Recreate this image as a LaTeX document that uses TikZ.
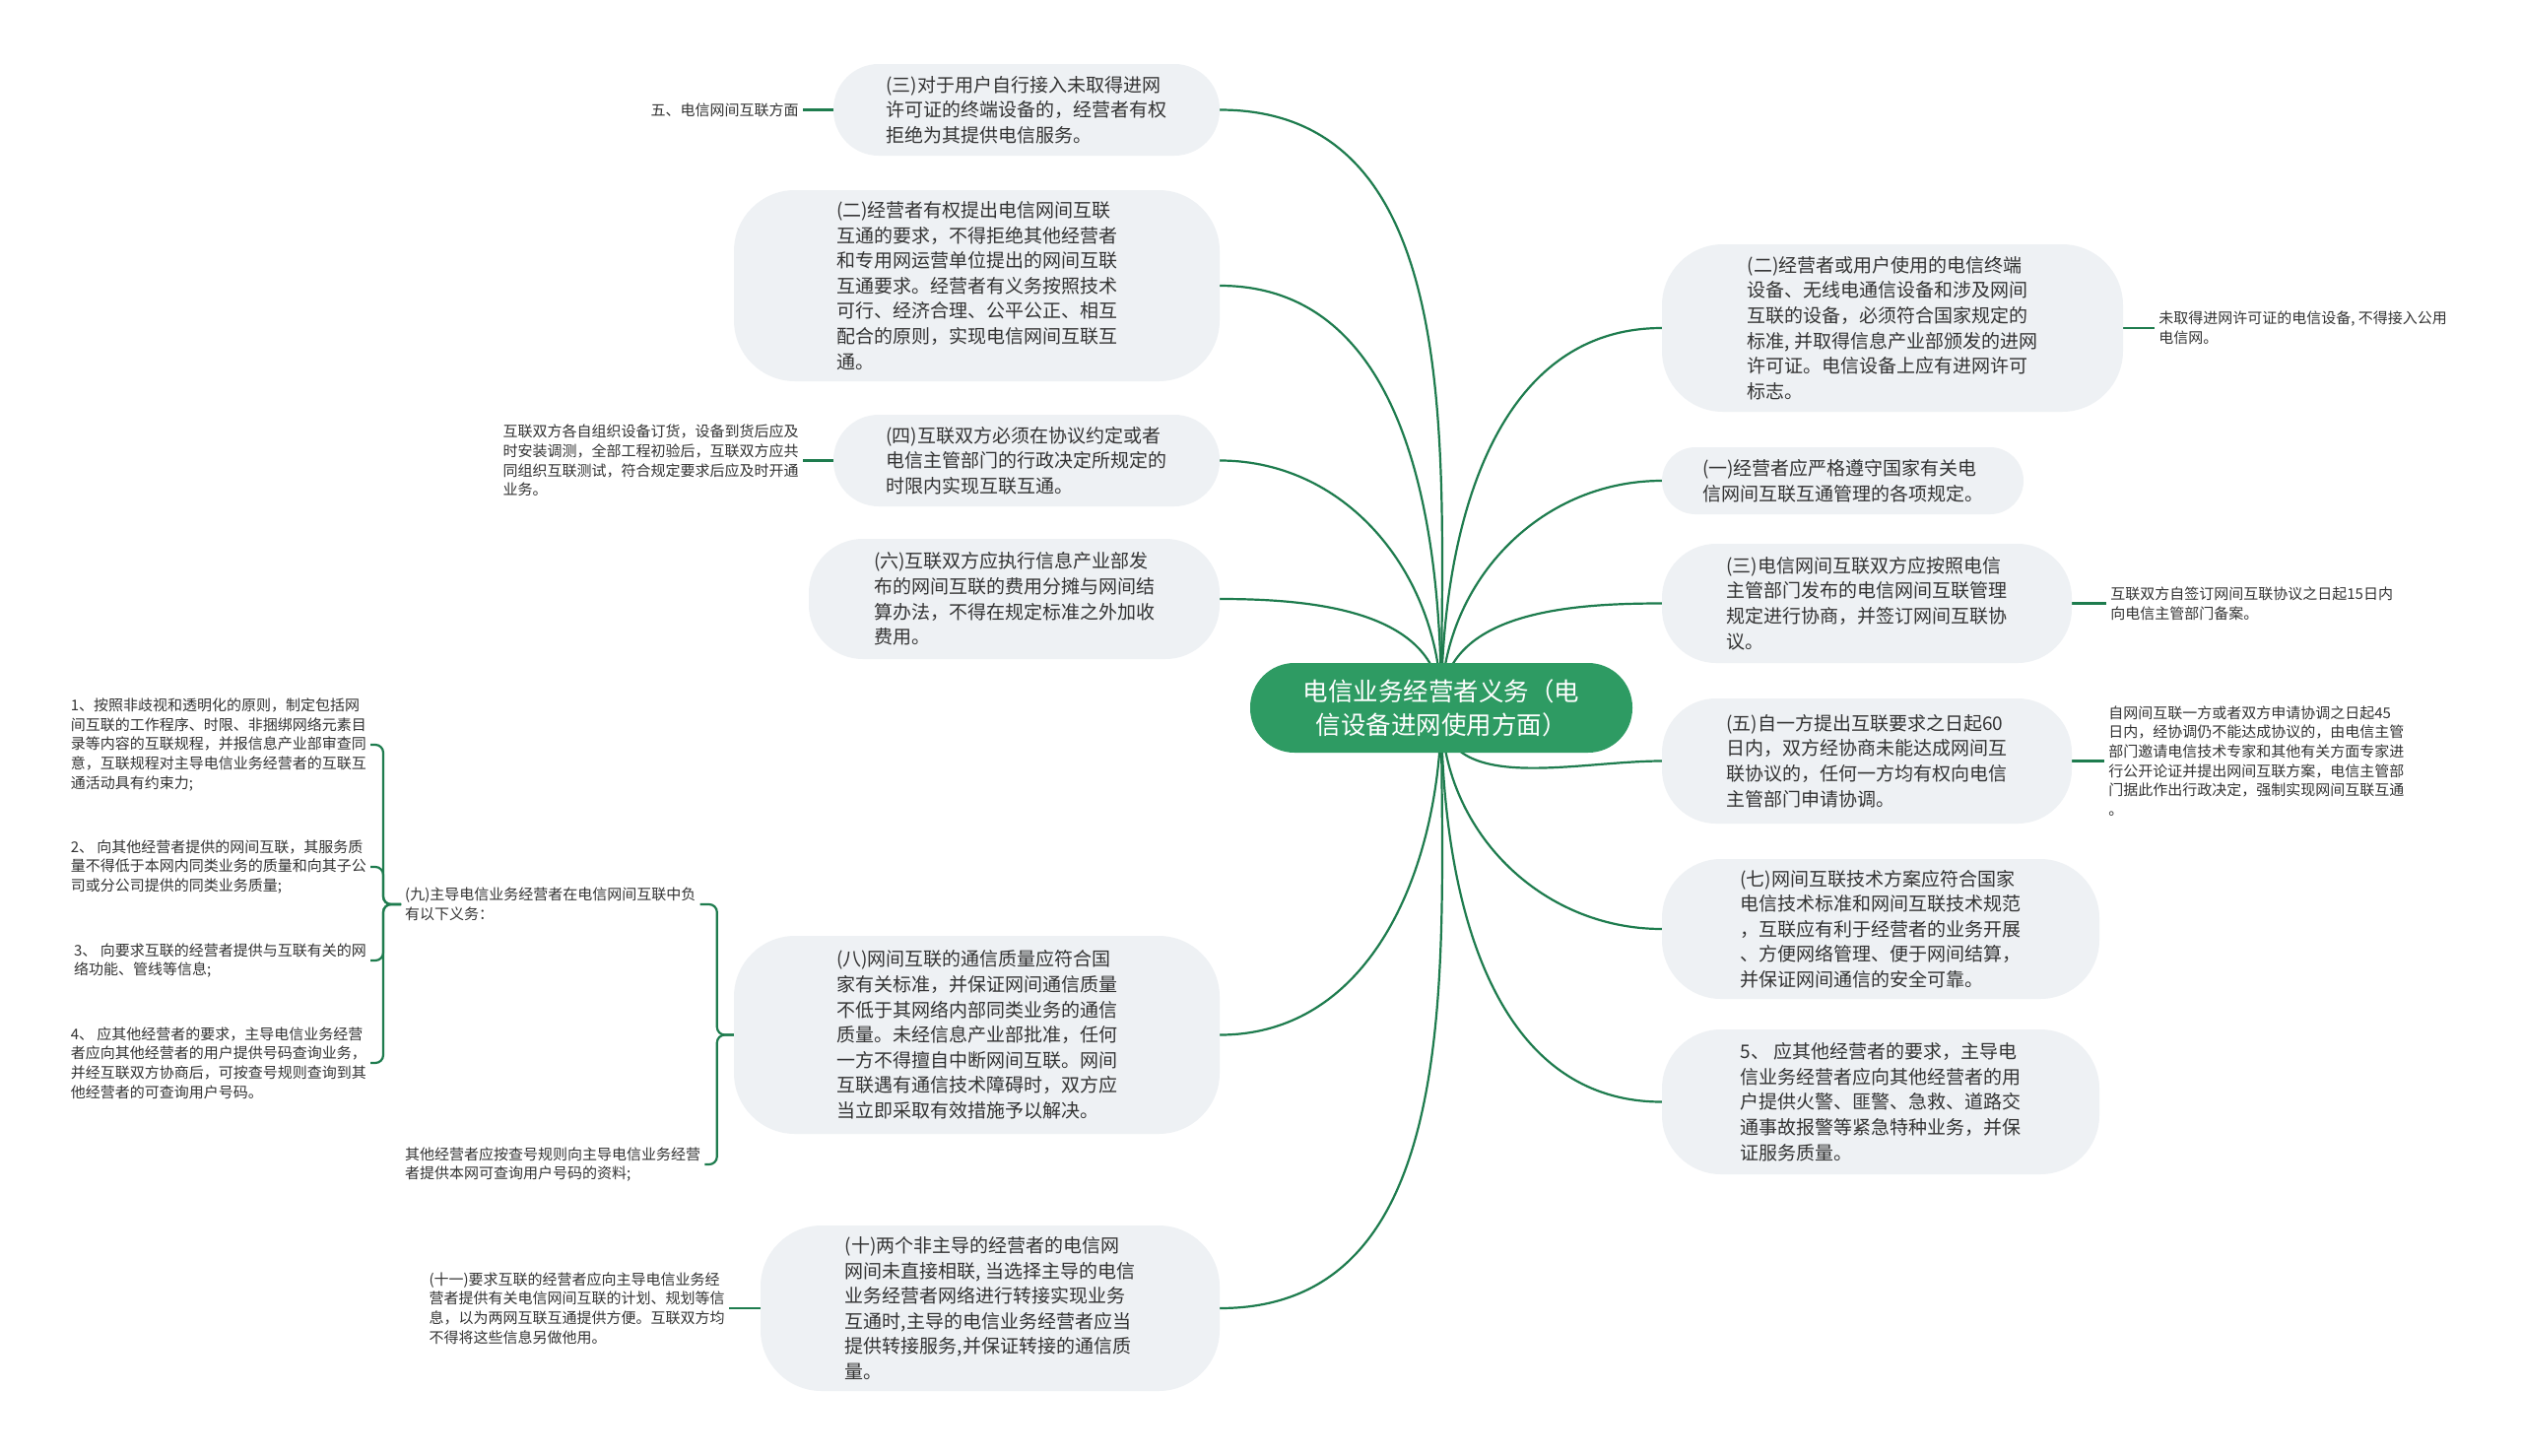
\documentclass[tikz,border=0pt]{standalone}
\usepackage{fontspec}
\setmainfont{Noto Sans CJK SC}
\usepackage{tikz}
\usepackage{xcolor}
\usetikzlibrary{positioning,backgrounds}

\definecolor{linkgreen}{HTML}{1E7C4E}
\definecolor{rootgreen}{HTML}{2E9B63}
\definecolor{pillgray}{HTML}{EEF1F4}
\definecolor{textgray}{HTML}{333333}

\tikzset{
  pill/.style={fill=pillgray,text=textgray,align=left,inner sep=0pt,
               font=\fontsize{19}{25.6}\selectfont},
  leaf/.style={text=textgray,align=left,inner sep=4pt,
               font=\fontsize{15}{19.6}\selectfont},
  link/.style={draw=linkgreen,line width=2.2pt},
}

\begin{document}
\begin{tikzpicture}[x=1pt,y=1pt]

  \useasboundingbox (0,0) rectangle (2560,-1478);

  % ---------- root ----------
  \node[fill=rootgreen,text=white,rounded corners=45pt,align=center,
        minimum width=388pt,minimum height=91pt,inner sep=0pt,
        font=\fontsize{25.5}{34}\selectfont] (root) at (1463,-718.5)
    {电信业务经营者义务（电\\信设备进网使用方面）};

  % ---------- left branch ----------
  \node[pill,minimum width=392pt,minimum height=93pt,rounded corners=46pt] (L3) at (1042,-111.5)
    {(三)对于用户自行接入未取得进网\\许可证的终端设备的，经营者有权\\拒绝为其提供电信服务。};
  \node[pill,minimum width=493pt,minimum height=194pt,rounded corners=62pt] (L2) at (991.5,-290)
    {(二)经营者有权提出电信网间互联\\互通的要求，不得拒绝其他经营者\\和专用网运营单位提出的网间互联\\互通要求。经营者有义务按照技术\\可行、经济合理、公平公正、相互\\配合的原则，实现电信网间互联互\\通。};
  \node[pill,minimum width=392pt,minimum height=93pt,rounded corners=46pt] (L4) at (1042,-467.5)
    {(四)互联双方必须在协议约定或者\\电信主管部门的行政决定所规定的\\时限内实现互联互通。};
  \node[pill,minimum width=417pt,minimum height=122pt,rounded corners=55pt] (L6) at (1029.5,-608)
    {(六)互联双方应执行信息产业部发\\布的网间互联的费用分摊与网间结\\算办法，不得在规定标准之外加收\\费用。};
  \node[pill,minimum width=493pt,minimum height=201pt,rounded corners=62pt] (L8) at (991.5,-1050.5)
    {(八)网间互联的通信质量应符合国\\家有关标准，并保证网间通信质量\\不低于其网络内部同类业务的通信\\质量。未经信息产业部批准，任何\\一方不得擅自中断网间互联。网间\\互联遇有通信技术障碍时，双方应\\当立即采取有效措施予以解决。};
  \node[pill,minimum width=466pt,minimum height=168pt,rounded corners=62pt] (L10) at (1005,-1328)
    {(十)两个非主导的经营者的电信网\\网间未直接相联, 当选择主导的电信\\业务经营者网络进行转接实现业务\\互通时,主导的电信业务经营者应当\\提供转接服务,并保证转接的通信质\\量。};

  % ---------- right branch ----------
  \node[pill,minimum width=468pt,minimum height=170pt,rounded corners=62pt] (R2) at (1921,-333)
    {(二)经营者或用户使用的电信终端\\设备、无线电通信设备和涉及网间\\互联的设备，必须符合国家规定的\\标准, 并取得信息产业部颁发的进网\\许可证。电信设备上应有进网许可\\标志。};
  \node[pill,minimum width=367pt,minimum height=68pt,rounded corners=34pt] (R1) at (1870.5,-488)
    {(一)经营者应严格遵守国家有关电\\信网间互联互通管理的各项规定。};
  \node[pill,minimum width=416pt,minimum height=121pt,rounded corners=55pt] (R3) at (1895,-612.5)
    {(三)电信网间互联双方应按照电信\\主管部门发布的电信网间互联管理\\规定进行协商，并签订网间互联协\\议。};
  \node[pill,minimum width=416pt,minimum height=127pt,rounded corners=55pt] (R5) at (1895,-772.5)
    {(五)自一方提出互联要求之日起60\\日内，双方经协商未能达成网间互\\联协议的，任何一方均有权向电信\\主管部门申请协调。};
  \node[pill,minimum width=444pt,minimum height=142pt,rounded corners=60pt] (R7) at (1909,-943)
    {(七)网间互联技术方案应符合国家\\电信技术标准和网间互联技术规范\\，互联应有利于经营者的业务开展\\、方便网络管理、便于网间结算，\\并保证网间通信的安全可靠。};
  \node[pill,minimum width=444pt,minimum height=147pt,rounded corners=60pt] (R5b) at (1909,-1118.5)
    {5、 应其他经营者的要求，主导电\\信业务经营者应向其他经营者的用\\户提供火警、匪警、急救、道路交\\通事故报警等紧急特种业务，并保\\证服务质量。};

  % ---------- leaves ----------
  \node[leaf,left=31pt of L3] (l3) {五、电信网间互联方面};
  \node[leaf,left=31pt of L4] (l4)
    {互联双方各自组织设备订货，设备到货后应及\\时安装调测，全部工程初验后，互联双方应共\\同组织互联测试，符合规定要求后应及时开通\\业务。};
  \node[leaf,left=32pt of L10] (l10)
    {(十一)要求互联的经营者应向主导电信业务经\\营者提供有关电信网间互联的计划、规划等信\\息，以为两网互联互通提供方便。互联双方均\\不得将这些信息另做他用。};
  \node[leaf,right=32pt of R2] (r2)
    {未取得进网许可证的电信设备, 不得接入公用\\电信网。};
  \node[leaf,right=35pt of R3] (r3)
    {互联双方自签订网间互联协议之日起15日内\\向电信主管部门备案。};
  \node[leaf,right=33pt of R5] (r5)
    {自网间互联一方或者双方申请协调之日起45\\日内，经协调仍不能达成协议的，由电信主管\\部门邀请电信技术专家和其他有关方面专家进\\行公开论证并提出网间互联方案，电信主管部\\门据此作出行政决定，强制实现网间互联互通\\。};

  % (八) sub-tree
  \node[leaf,anchor=west] (n9) at (407,-918)
    {(九)主导电信业务经营者在电信网间互联中负\\有以下义务：};
  \node[leaf,anchor=west] (n9b) at (407,-1182)
    {其他经营者应按查号规则向主导电信业务经营\\者提供本网可查询用户号码的资料;};
  \node[leaf,anchor=east] (c1) at (376,-756)
    {1、按照非歧视和透明化的原则，制定包括网\\间互联的工作程序、时限、非捆绑网络元素目\\录等内容的互联规程，并报信息产业部审查同\\意，互联规程对主导电信业务经营者的互联互\\通活动具有约束力;};
  \node[leaf,anchor=east] (c2) at (376,-880)
    {2、 向其他经营者提供的网间互联，其服务质\\量不得低于本网内同类业务的质量和向其子公\\司或分公司提供的同类业务质量;};
  \node[leaf,anchor=east] (c3) at (376,-975)
    {3、 向要求互联的经营者提供与互联有关的网\\络功能、管线等信息;};
  \node[leaf,anchor=east] (c4) at (376,-1079)
    {4、 应其他经营者的要求，主导电信业务经营\\者应向其他经营者的用户提供号码查询业务，\\并经互联双方协商后，可按查号规则查询到其\\他经营者的可查询用户号码。};

  % ---------- connectors ----------
  \begin{scope}[on background layer]
    \fill[white] (0,0) rectangle (2560,-1478);
    \foreach \t in {L3,L2,L4,L6}
      \draw[link] (root.center) to[out=90,in=0] (\t.east);
    \foreach \t in {L8,L10}
      \draw[link] (root.center) to[out=-90,in=0] (\t.east);
    \foreach \t in {R2,R1,R3}
      \draw[link] (root.center) to[out=90,in=180] (\t.west);
    \foreach \t in {R5,R7,R5b}
      \draw[link] (root.center) to[out=-90,in=180] (\t.west);
    % short stems to the leaves
    \draw[link] (L3.west) -- (l3.east);
    \draw[link] (L4.west) -- (l4.east);
    \draw[link] (L10.west) -- (l10.east);
    \draw[link] (R2.east) -- (r2.west);
    \draw[link] (R3.east) -- (r3.west);
    \draw[link] (R5.east) -- (r5.west);
    % brackets
    \foreach \c in {n9,n9b}
      \draw[link,rounded corners=8pt] (L8.west) -- ++(-17,0) |- (\c.east);
    \foreach \c in {c1,c2,c3,c4}
      \draw[link,rounded corners=8pt] (n9.west) -- ++(-18,0) |- (\c.east);
  \end{scope}

\end{tikzpicture}
\end{document}
